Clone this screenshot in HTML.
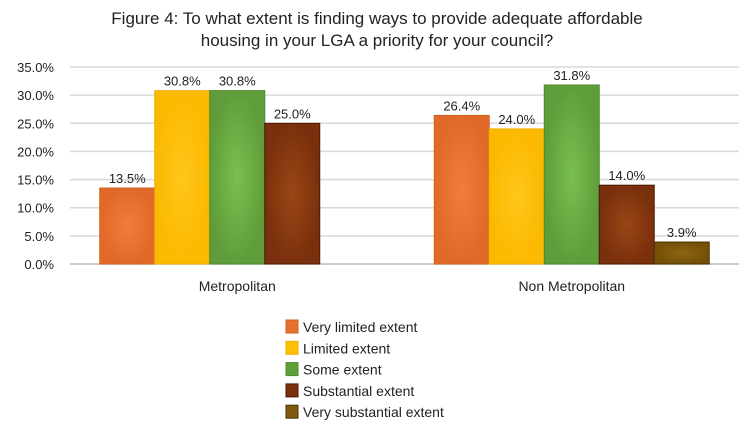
<!DOCTYPE html>
<html><head><meta charset="utf-8"><style>
body{margin:0;background:#fff;font-family:"Liberation Sans",sans-serif;}
svg text{font-family:"Liberation Sans",sans-serif;fill:#222;}
</style></head><body>
<svg width="754" height="442">
<defs>
<radialGradient id="g0"><stop offset="0" stop-color="#f47c3a"/><stop offset="1" stop-color="#e0692a"/></radialGradient>
<radialGradient id="g1"><stop offset="0" stop-color="#ffc61a"/><stop offset="1" stop-color="#fbb900"/></radialGradient>
<radialGradient id="g2"><stop offset="0" stop-color="#7abf50"/><stop offset="1" stop-color="#5f9d3a"/></radialGradient>
<radialGradient id="g3"><stop offset="0" stop-color="#9a4616"/><stop offset="1" stop-color="#7a300c"/></radialGradient>
<radialGradient id="g4"><stop offset="0" stop-color="#8d6410"/><stop offset="1" stop-color="#745008"/></radialGradient>
</defs>
<text x="377" y="24" text-anchor="middle" font-size="17">Figure 4: To what extent is finding ways to provide adequate affordable</text>
<text x="377" y="46" text-anchor="middle" font-size="17">housing in your LGA a priority for your council?</text>
<g id="grid"></g><g id="bars"></g><g id="legend"></g>
</svg>
<script>
const categories=["Metropolitan","Non Metropolitan"];
const seriesNames=["Very limited extent","Limited extent","Some extent","Substantial extent","Very substantial extent"];
const metroValues=[13.5,30.8,30.8,25.0,null];
const nonMetroValues=[26.4,24.0,31.8,14.0,3.9];
const tickValues=[0,5,10,15,20,25,30,35];
const tickLabels=["0.0%","5.0%","10.0%","15.0%","20.0%","25.0%","30.0%","35.0%"];
const colors=["url(#g0)","url(#g1)","url(#g2)","url(#g3)","url(#g4)"];
const strokes=["#d0621f","#f0b000","#4f8a2e","#4a1a04","#4a3204"];
const swatch=["#e8702e","#ffc000","#5fa03a","#7a300c","#7f5a0c"];
const NS="http://www.w3.org/2000/svg";
const x0=70,x1=739,y0=264,yTop=67,vmax=35;
const y=v=>y0-(v/vmax)*(y0-yTop);
const catW=(x1-x0)/categories.length,barW=55;
function mk(t,a,p){const e=document.createElementNS(NS,t);for(const k in a)e.setAttribute(k,a[k]);p.appendChild(e);return e;}
const grid=document.getElementById('grid');
tickValues.forEach((v,i)=>{
 const l=mk('line',{x1:x0,x2:x1,y1:y(v),y2:y(v),stroke:i==0?'#bbb':'#d9d9d9','stroke-width':1.5},grid);
 
 
 const t=mk('text',{x:54,y:y(v)+5,'text-anchor':'end','font-size':13},grid);
 t.textContent=tickLabels[i];
 
 
});
const bars=document.getElementById('bars');
[metroValues,nonMetroValues].forEach((vals,c)=>{
 const n=seriesNames.length;
 const cx=x0+catW*(c+0.5);
 let start=cx-n*barW/2;
 vals.forEach((v,s)=>{
  if(v==null)return;
  const bx=start+s*barW;
  const r=mk('rect',{x:bx,y:y(v),width:barW,height:y0-y(v),fill:colors[s],stroke:strokes[s],'stroke-width':1},bars);
  
  
  const t=mk('text',{x:bx+barW/2,y:y(v)-5,'text-anchor':'middle','font-size':13},bars);
  t.textContent=v.toFixed(1)+'%';
  
  
 });
 const t=mk('text',{x:cx,y:291,'text-anchor':'middle','font-size':14},bars);
 t.textContent=categories[c];
 
 
});
const lg=document.getElementById('legend');
seriesNames.forEach((n,i)=>{
 const yy=320+i*21.3;
 const r=mk('rect',{x:286,y:yy,width:12,height:13,fill:swatch[i],stroke:strokes[i]},lg);
 
 
 const t=mk('text',{x:303,y:yy+12,'font-size':14},lg);
 t.textContent=n;
 
 
});
</script>
</body></html>
